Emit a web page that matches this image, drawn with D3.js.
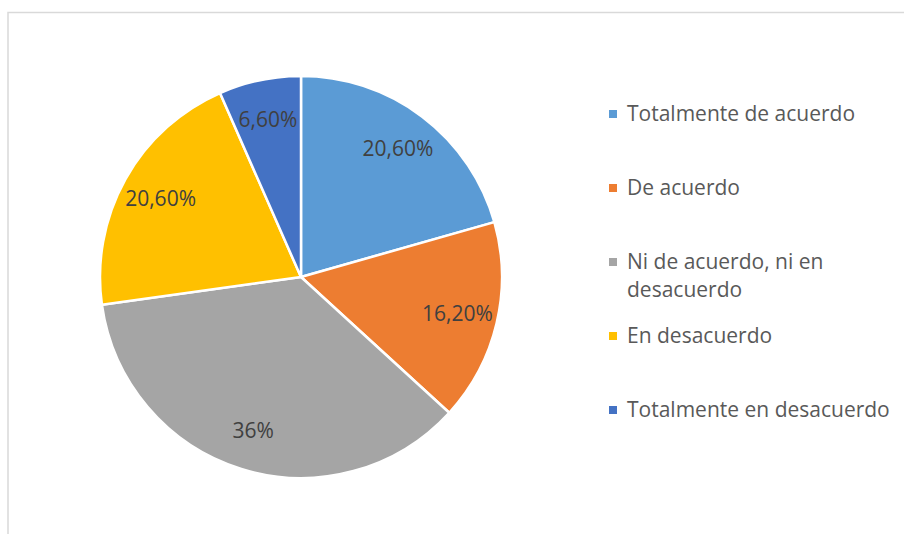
<!DOCTYPE html>
<html><head><meta charset="utf-8">
<script src="https://cdn.jsdelivr.net/npm/d3@7"></script>
<style>body{margin:0;background:#fff}svg{display:block}</style>
</head><body>
<svg id="c" width="904" height="534"></svg>
<script>
const categories = ["Totalmente de acuerdo","De acuerdo","Ni de acuerdo, ni en desacuerdo","En desacuerdo","Totalmente en desacuerdo"];
const values = [20.6, 16.2, 36, 20.6, 6.6];
const valueLabels = ["20,60%","16,20%","36%","20,60%","6,60%"];
const colors = ["#5B9BD5","#ED7D31","#A5A5A5","#FFC000","#4472C4"];

const svg = d3.select("#c");
const font = "'Open Sans', sans-serif";

// chart border
svg.append("rect").attr("x",8).attr("y",12.5).attr("width",920).attr("height",540)
  .attr("fill","none").attr("stroke","#d9d9d9").attr("stroke-width",1.5);

const cx = 301, cy = 277, R = 201;
const g = svg.append("g").attr("transform",`translate(${cx},${cy})`);
const pie = d3.pie().value(d=>d).sort(null);
const arcs = pie(values);
const arc = d3.arc().innerRadius(0).outerRadius(R);
g.selectAll("path").data(arcs).join("path")
  .attr("d",arc).attr("fill",(d,i)=>colors[i])
  .attr("stroke","#fff").attr("stroke-width",2.5).attr("stroke-linejoin","round");

const labelArc = d3.arc().innerRadius(R*0.8).outerRadius(R*0.8);
g.selectAll("text").data(arcs).join("text")
  .attr("transform",d=>`translate(${labelArc.centroid(d)})`)
  .attr("text-anchor","middle").attr("dy","0.35em")
  .attr("font-family",font).attr("font-size",21).attr("fill","#404040")
  .text((d,i)=>valueLabels[i]);

// legend
const ly = d3.scalePoint().domain(categories).range([114,410]);
const leg = svg.append("g");
const maxW = 268;
categories.forEach((c,i)=>{
  const y = ly(c);
  leg.append("rect").attr("x",609).attr("y",y-4).attr("width",8).attr("height",8).attr("fill",colors[i]);
  const t = leg.append("text").attr("x",627).attr("y",y).attr("dy","0.35em")
    .attr("font-family",font).attr("font-size",21).attr("fill","#595959");
  const words = c.split(" ");
  let line = [], tsp = t.append("tspan").attr("x",627);
  words.forEach(w=>{
    line.push(w); tsp.text(line.join(" "));
    if (tsp.node().getComputedTextLength() > maxW && line.length>1) {
      line.pop(); tsp.text(line.join(" "));
      line=[w];
      tsp = t.append("tspan").attr("x",627).attr("dy","1.33em").text(w);
    }
  });
});
</script>
</body></html>
